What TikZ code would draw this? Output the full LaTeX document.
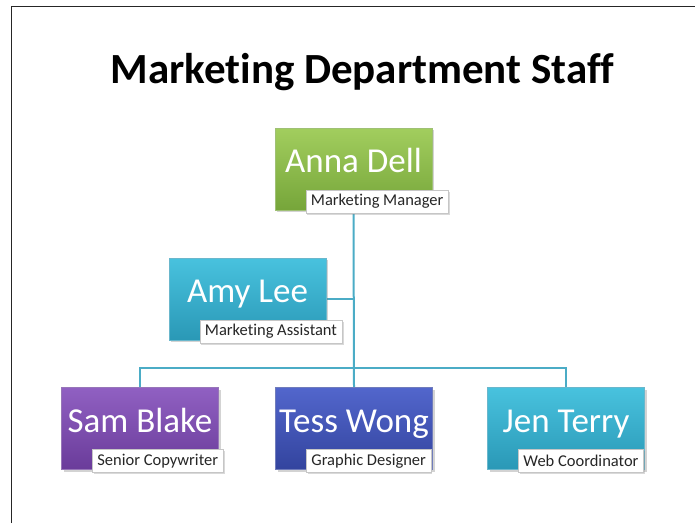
\documentclass[tikz,border=0pt]{standalone}
\usepackage{fontspec}
\setmainfont{Carlito}[Ligatures=NoCommon]
\usetikzlibrary{shadows,backgrounds}
\definecolor{linkblue}{HTML}{4BACC6}
\definecolor{greentop}{HTML}{A2CE5E}
\definecolor{greenbot}{HTML}{76A53A}
\definecolor{tealtop}{HTML}{48C2DE}
\definecolor{tealbot}{HTML}{2A98B6}
\definecolor{purpletop}{HTML}{9060C2}
\definecolor{purplebot}{HTML}{6A3C9A}
\definecolor{bluetop}{HTML}{5266CC}
\definecolor{bluebot}{HTML}{33449E}
\tikzset{
	x=1pt,
	y=1pt,
	person/.style={
		rectangle,
		minimum width=157pt,
		minimum height=82pt,
		text=white,
		font=\fontsize{35}{38}\selectfont,
		text height=23pt,
		text depth=16pt,
		draw=#1!70!white,
		line width=0.6pt,
		drop shadow={opacity=0.35, shadow xshift=2pt, shadow yshift=-2pt}
	},
	role/.style={
		rectangle,
		anchor=south west,
		fill=white,
		draw=gray!45,
		inner xsep=5pt,
		minimum height=23pt,
		font=\fontsize{16.5}{18}\selectfont,
		text=black!85,
		drop shadow={opacity=0.3, shadow xshift=1.5pt, shadow yshift=-1.5pt}
	},
	link/.style={draw=linkblue, line width=2pt},
}

\begin{document}
\begin{tikzpicture}
	\useasboundingbox (0,0) rectangle (695,-523);
	% slide frame
	\draw[gray!30!black, line width=1.8pt] (11.5,-523) -- (11.5,-6.5) -- (695,-6.5);

	\node[font=\bfseries\fontsize{43}{46}\selectfont, anchor=base] (title) at (362.5,-83) {Marketing Department Staff};

	% staff boxes
	\node[person=greenbot, top color=greentop, bottom color=greenbot] (anna) at (353.5,-169) {Anna Dell};
	\node[person=tealbot, top color=tealtop, bottom color=tealbot] (amy) at (247.5,-299) {Amy Lee};
	\node[person=purplebot, top color=purpletop, bottom color=purplebot] (sam) at (140,-428.5) {Sam Blake};
	\node[person=bluebot, top color=bluetop, bottom color=bluebot] (tess) at (354,-428.5) {Tess Wong};
	\node[person=tealbot, top color=tealtop, bottom color=tealbot] (jen) at (566,-428.5) {Jen Terry};

	% job titles
	\node[role] (annarole) at ([xshift=31pt,yshift=-3pt]anna.south west) {Marketing Manager};
	\node[role] (amyrole) at ([xshift=31pt,yshift=-3pt]amy.south west) {Marketing Assistant};
	\node[role] (samrole) at ([xshift=31pt,yshift=-3pt]sam.south west) {Senior Copywriter};
	\node[role] (tessrole) at ([xshift=31pt,yshift=-3pt]tess.south west) {Graphic Designer};
	\node[role] (jenrole) at ([xshift=31pt,yshift=-3pt]jen.south west) {Web Coordinator};

	% connectors
	\coordinate (bus) at (354,-368);
	\begin{scope}[on background layer]
		\draw[link] (anna.south) -- (tess.north);
		\draw[link] (amy.east) -- (amy.east -| anna.south);
		\draw[link] (sam.north) |- (bus) -| (jen.north);
	\end{scope}
\end{tikzpicture}
\end{document}
